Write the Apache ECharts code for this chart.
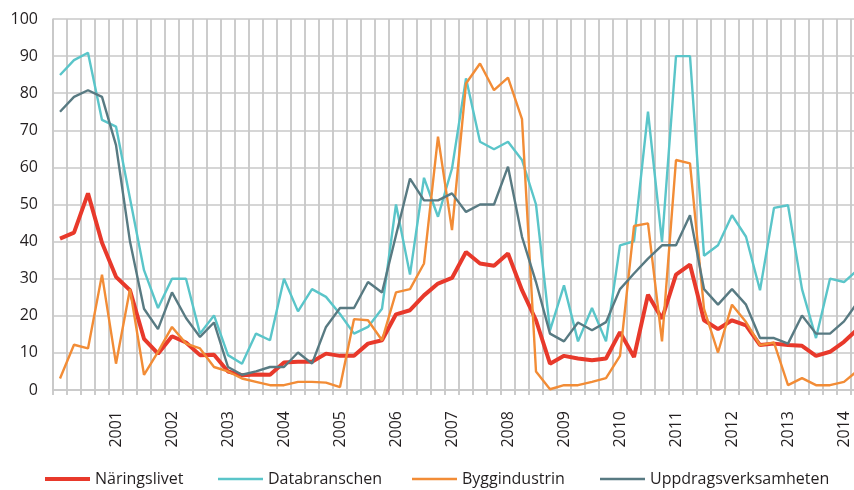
<!DOCTYPE html>
<html>
<head>
<meta charset="utf-8">
<script src="https://cdn.jsdelivr.net/npm/echarts@6/dist/echarts.min.js"></script>
<style>
  html, body { margin: 0; padding: 0; background: #fff; }
  #chart { width: 854px; height: 490px; }
</style>
</head>
<body>
<div id="chart"></div>
<script>
// quarters 2000 K1 .. 2014 K2
const years = [2000, 2001, 2002, 2003, 2004, 2005, 2006, 2007, 2008, 2009, 2010, 2011, 2012, 2013, 2014];
const quarters = [];
years.forEach((y) => {
  for (let q = 1; q <= 4; q++) {
    if (y === 2014 && q > 2) break;
    quarters.push(y + ' K' + q);
  }
});
// year labels shown on first quarter, except the first year
const yearLabels = ['2001', '2002', '2003', '2004', '2005', '2006', '2007', '2008', '2009', '2010', '2011', '2012', '2013', '2014'];

const naringslivet = [
  40.8, 42.4, 53.0, 39.7, 30.5, 26.9, 13.8, 9.8, 14.5, 12.8,
  9.4, 9.5, 5.0, 4.0, 4.2, 4.1, 7.4, 7.6, 7.6, 9.8,
  9.2, 9.2, 12.5, 13.4, 20.4, 21.5, 25.5, 28.7, 30.2, 37.2,
  34.1, 33.5, 36.8, 26.9, 18.8, 7.1, 9.2, 8.5, 8.0, 8.5,
  15.6, 8.9, 25.7, 19.2, 31.1, 33.8, 18.8, 16.4, 18.8, 17.4,
  12.1, 12.5, 12.1, 11.9, 9.2, 10.3, 13.0, 16.5
];
const databranschen = [
  84.9, 88.9, 90.9, 72.8, 71.0, 51.6, 32.3, 22.1, 30.0, 30.0,
  15.2, 20.1, 9.4, 7.1, 15.2, 13.4, 30.0, 21.2, 27.2, 25.1,
  20.5, 15.2, 17.0, 21.9, 50.0, 31.1, 57.2, 46.7, 59.7, 84.0,
  66.9, 64.9, 66.9, 62.0, 50.0, 16.1, 28.2, 13.1, 22.1, 13.1,
  39.0, 40.1, 75.0, 39.9, 90.0, 90.0, 36.2, 39.0, 47.1, 41.3,
  26.9, 49.1, 49.8, 27.2, 14.0, 30.0, 29.1, 32.5
];
const byggindustrin = [
  3.1, 12.2, 11.2, 31.1, 7.1, 27.2, 4.1, 10.3, 17.0, 12.5,
  11.2, 6.2, 5.0, 3.1, 2.2, 1.3, 1.3, 2.2, 2.2, 2.0,
  0.8, 19.1, 18.8, 13.4, 26.3, 27.2, 34.1, 68.3, 43.1, 82.6,
  88.0, 80.8, 84.2, 73.0, 5.0, 0.2, 1.3, 1.3, 2.2, 3.2,
  9.2, 44.2, 44.9, 13.1, 62.0, 61.1, 21.9, 10.1, 23.0, 18.3,
  12.1, 12.8, 1.3, 3.2, 1.3, 1.3, 2.2, 5.3
];
const uppdrag = [
  75.0, 79.0, 80.8, 79.0, 66.0, 40.0, 21.9, 16.4, 26.3, 19.4,
  14.3, 18.2, 6.2, 4.1, 5.0, 6.2, 6.2, 10.1, 7.1, 17.0,
  22.1, 22.1, 29.1, 26.3, 41.7, 57.0, 51.1, 51.1, 53.0, 48.0,
  50.0, 50.0, 60.2, 41.3, 29.1, 15.2, 13.1, 18.2, 16.1, 18.3,
  27.2, 31.4, 35.4, 39.0, 39.0, 47.1, 27.2, 23.0, 27.2, 23.0,
  14.0, 14.0, 12.5, 20.1, 15.2, 15.2, 18.5, 23.8
];

const FONT = '"Open Sans", sans-serif';
const TEXT = '#231f20';
const GRID = '#c8c8c8';
const Y_MIN = 0;
const Y_MAX = 100;

const SERIES = [
  { name: 'Näringslivet', data: naringslivet, color: '#e8392b', width: 4, legendLeft: 45 },
  { name: 'Databranschen', data: databranschen, color: '#5ac5c9', width: 2.4, legendLeft: 218 },
  { name: 'Byggindustrin', data: byggindustrin, color: '#f28c36', width: 2.4, legendLeft: 412 },
  { name: 'Uppdragsverksamheten', data: uppdrag, color: '#587a82', width: 2.4, legendLeft: 600 },
];

// quarter boundaries 0..n on the helper value axis
const boundaries = quarters.map((_, i) => [i]).concat([[quarters.length]]);

const chart = echarts.init(document.getElementById('chart'), null, { renderer: 'canvas' });

chart.setOption({
  animation: false,
  grid: {
    left: 53,
    top: 19,
    width: quarters.length * 14,
    height: 371,
    containLabel: false,
    outerBoundsMode: 'none',
  },
  // one legend per item so each sits where the original puts it
  legend: SERIES.map((s) => ({
    left: s.legendLeft,
    top: 471,
    padding: 0,
    itemWidth: 45,
    itemHeight: 16,
    data: [{ name: s.name, icon: `path://M0,0 H45 V${s.width} H0 Z` }],
    itemStyle: { color: s.color },
    textStyle: { color: TEXT, fontSize: 16, fontFamily: FONT },
  })),
  xAxis: [
    {
      type: 'category',
      boundaryGap: true,
      data: quarters,
      axisLine: { show: true, lineStyle: { color: GRID, width: 1.5 } },
      axisTick: { show: true, interval: 0, length: 5, lineStyle: { color: GRID, width: 1.5 } },
      splitLine: { show: true, interval: 0, lineStyle: { color: GRID, width: 1.5 } },
      axisLabel: {
        interval: 0,
        rotate: 90,
        margin: 21,
        color: TEXT,
        fontSize: 16,
        fontFamily: FONT,
        formatter: (value) => {
          const [y, q] = value.split(' ');
          return q === 'K1' && yearLabels.includes(y) ? y : '';
        },
      },
    },
    {
      // hidden helper scale over the same width, used for the quarter grid lines
      type: 'value',
      show: false,
      min: 0,
      max: quarters.length,
    },
  ],
  yAxis: {
    type: 'value',
    min: Y_MIN,
    max: Y_MAX,
    interval: 10,
    axisLine: { show: true, lineStyle: { color: GRID, width: 1.5 } },
    axisTick: { show: false },
    splitLine: { show: true, lineStyle: { color: GRID, width: 1.5 } },
    axisLabel: { color: TEXT, fontSize: 16, fontFamily: FONT, margin: 15 },
  },
  series: [
    {
      // vertical quarter lines plus the small tick below the axis
      name: 'grid',
      type: 'custom',
      xAxisIndex: 1,
      yAxisIndex: 0,
      silent: true,
      clip: false,
      data: boundaries,
      renderItem: (params, api) => {
        const top = api.coord([api.value(0), Y_MAX]);
        const bottom = api.coord([api.value(0), Y_MIN]);
        return {
          type: 'line',
          shape: { x1: top[0], y1: top[1], x2: bottom[0], y2: bottom[1] + 5 },
          style: { stroke: GRID, lineWidth: 1.5 },
        };
      },
    },
    ...SERIES.map((s) => ({
      name: s.name,
      type: 'line',
      xAxisIndex: 0,
      data: s.data,
      symbol: 'none',
      lineStyle: { color: s.color, width: s.width },
      itemStyle: { color: s.color },
    })),
  ],
});
</script>
</body>
</html>
